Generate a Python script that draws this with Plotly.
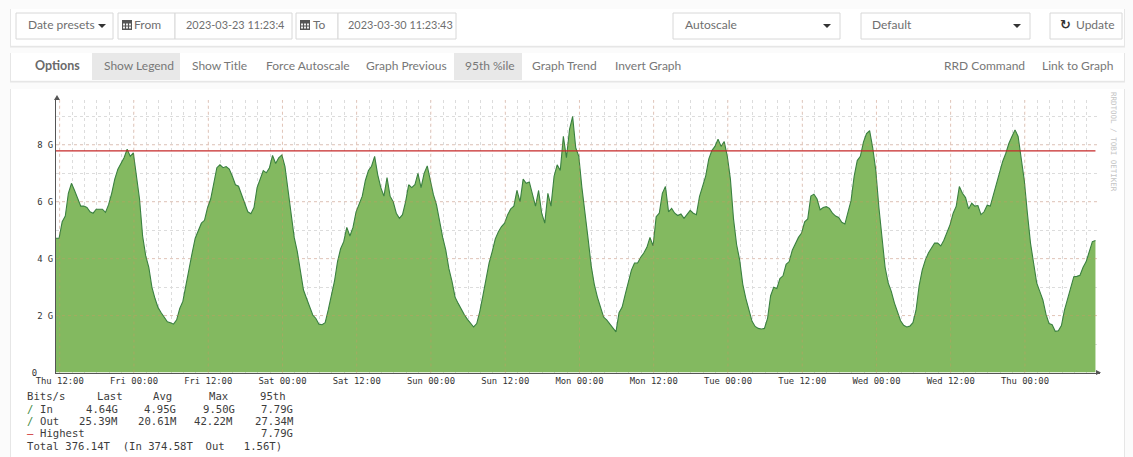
import pandas as pd
import plotly.graph_objects as go

W, H = 1133, 457

START = "2023-03-23 11:24"
IN_BITS_G = [
    4.72,4.72,5.3,5.5,6.3,6.65,6.4,6.1,5.85,5.85,5.8,5.65,5.6,5.74,5.75,5.74,5.63,5.9,6.3,6.8,
    7.15,7.35,7.55,7.85,7.6,7.72,6.9,6.1,4.8,4.1,3.7,3.0,2.6,2.28,2.1,1.92,1.78,1.75,1.7,1.85,
    2.25,2.5,3.1,3.6,4.2,4.72,5.0,5.25,5.35,5.8,6.1,6.6,7.2,7.3,7.2,7.24,7.15,6.9,6.6,6.55,
    6.25,5.9,5.65,5.58,5.8,6.5,6.8,7.1,7.02,7.2,7.63,7.35,7.55,7.65,7.25,6.42,5.7,4.75,4.25,3.6,
    2.9,2.6,2.3,2.02,1.9,1.7,1.68,1.75,2.2,2.7,3.2,3.9,4.35,4.6,5.1,4.8,5.1,5.65,5.95,6.2,
    6.75,7.1,7.25,7.6,6.95,6.5,6.2,6.85,6.2,6.0,5.6,5.42,
    5.55,6.0,6.6,6.5,6.6,7.0,6.5,7.0,7.26,6.75,6.25,5.89,5.3,4.75,4.3,3.65,3.2,2.65,2.43,2.2,
    2.03,1.87,1.75,1.6,1.72,2.15,2.7,3.3,3.85,4.25,4.7,4.95,5.13,5.25,5.55,5.75,5.85,6.4,6.0,6.8,
    6.65,6.7,6.3,5.85,6.4,5.6,5.25,6.3,5.85,6.9,7.3,7.1,8.3,7.55,8.55,9.0,7.9,7.6,6.5,5.5,
    4.7,3.75,3.1,2.65,2.25,1.95,1.85,1.72,1.6,1.43,2.1,2.3,2.75,3.2,3.6,3.85,3.85,4.05,4.2,4.4,
    4.75,4.45,5.48,5.6,6.3,6.54,5.65,5.77,5.6,5.52,5.57,5.42,5.55,5.7,5.6,5.55,6.18,6.55,6.9,7.5,
    7.8,7.95,8.2,7.95,8.12,7.6,6.8,5.4,4.5,3.95,3.1,2.6,2.2,1.8,1.62,1.55,
    1.53,1.55,1.9,2.7,3.0,2.95,3.3,3.4,3.8,3.9,4.3,4.55,4.75,4.9,5.3,5.4,6.2,6.27,6.1,5.72,
    5.8,5.83,5.77,5.6,5.5,5.45,5.28,5.22,5.6,6.05,6.9,7.45,7.6,8.1,8.4,8.5,7.9,7.1,5.8,4.65,
    3.7,3.15,2.85,2.45,2.15,1.82,1.66,1.6,1.63,1.75,2.19,3.05,3.6,3.95,4.2,4.4,4.55,4.55,4.45,4.65,
    4.9,5.2,5.6,5.85,6.54,6.3,6.15,5.75,5.95,5.85,5.87,5.55,5.65,5.88,5.85,6.25,6.7,7.1,7.42,7.7,
    8.05,8.3,8.53,8.3,7.5,6.75,5.6,4.55,3.85,3.15,2.85,2.55,2.05,1.72,1.68,1.45,1.47,1.65,2.2,2.6,
    2.95,3.37,3.38,3.42,3.7,3.9,4.25,4.6,4.64,
]
HIGHEST_G = 7.79

X_TICKS = ["2023-03-23 12:00","2023-03-24 00:00","2023-03-24 12:00","2023-03-25 00:00",
           "2023-03-25 12:00","2023-03-26 00:00","2023-03-26 12:00","2023-03-27 00:00",
           "2023-03-27 12:00","2023-03-28 00:00","2023-03-28 12:00","2023-03-29 00:00",
           "2023-03-29 12:00","2023-03-30 00:00"]
X_LABELS = ["Thu 12:00","Fri 00:00","Fri 12:00","Sat 00:00","Sat 12:00","Sun 00:00","Sun 12:00",
            "Mon 00:00","Mon 12:00","Tue 00:00","Tue 12:00","Wed 00:00","Wed 12:00","Thu 00:00"]
Y_TICKS = [0, 2, 4, 6, 8]
Y_LABELS = ["0   ", "2 G", "4 G", "6 G", "8 G"]

LEGEND_HEADER = ["Bits/s", "Last", "Avg", "Max", "95th"]
LEGEND_IN = ["In", "4.64G", "4.95G", "9.50G", "7.79G"]
LEGEND_OUT = ["Out", "25.39M", "20.61M", "42.22M", "27.34M"]
LEGEND_HIGHEST = ["Highest", "7.79G"]
LEGEND_TOTAL = "Total 376.14T  (In 374.58T  Out   1.56T)"

TOOLBAR = [
    ("Date presets", 27, 12), ("From", 133, 12), ("2023-03-23 11:23:4", 185, 10.9),
    ("To", 312, 12), ("2023-03-30 11:23:43", 347, 10.9), ("Autoscale", 684, 12),
    ("Default", 871, 12), ("Update", 1075, 12),
]
OPTIONS = [
    ("Show Legend", 103), ("Show Title", 191), ("Force Autoscale", 265), ("Graph Previous", 365),
    ("95th %ile", 464), ("Graph Trend", 531), ("Invert Graph", 614), ("RRD Command", 943),
    ("Link to Graph", 1041),
]


def px(x):
    return x / W


def py(y):
    return 1 - y / H


times = pd.date_range(START, periods=len(IN_BITS_G), freq="30min")

fig = go.Figure()
fig.add_trace(go.Scatter(
    x=times, y=IN_BITS_G, mode="lines", fill="tozeroy",
    fillcolor="#83b960", line=dict(color="#3a8040", width=1.1), showlegend=False,
    hoverinfo="skip",
))
fig.add_trace(go.Scatter(
    x=[times[0], times[-1]], y=[HIGHEST_G, HIGHEST_G], mode="lines",
    line=dict(color="#c62828", width=1.1), showlegend=False, hoverinfo="skip",
))

shapes = []


def rect(x0, y0, x1, y1, fill="white", line=None, lw=1, layer="below"):
    shapes.append(dict(type="rect", xref="paper", yref="paper", x0=px(x0), x1=px(x1),
                       y0=py(y1), y1=py(y0), fillcolor=fill,
                       line=dict(color=line or "rgba(0,0,0,0)", width=lw), layer=layer))


def tri(pts, color, layer="above"):
    path = "M " + " L ".join(f"{px(a):.5f} {py(b):.5f}" for a, b in pts) + " Z"
    shapes.append(dict(type="path", xref="paper", yref="paper", path=path,
                       fillcolor=color, line=dict(width=0), layer=layer))


def card(x0, y0, x1, y1):
    rect(x0 - 1, y0, x1 + 1, y1 + 2.5, fill="#e6e6e6")
    rect(x0, y0, x1, y1 + 1, fill="#fafafa")
    rect(x0, y0, x1, y1, fill="white")


def calendar(x, y):
    rect(x, y, x + 10, y + 10, fill="#555", layer="above")
    for i in range(3):
        for j in range(2):
            rect(x + 1 + i * 3, y + 3.5 + j * 3, x + 3 + i * 3, y + 5.5 + j * 3, fill="#eee", layer="above")


card(11, 9, 1124, 45)
card(11, 53, 1124, 80)
card(11, 89, 1124, 458)

for box in [(16, 13, 113, 39), (118, 13, 175, 39), (175, 13, 292, 39), (296, 13, 338, 39),
            (338, 13, 456, 39), (673, 13, 840, 39), (861, 13, 1030, 39), (1050, 13, 1122, 39)]:
    rect(*box, fill="white", line="#d8d8d8")
rect(92, 53, 180, 80, fill="#e8e8e8")
rect(454, 53, 522, 80, fill="#e8e8e8")
calendar(122, 20)
calendar(300, 20)
for cx in (102, 827, 1017):
    tri([(cx - 4, 24), (cx + 4, 24), (cx, 28)], "#333")

# major grid lines sit faintly over the filled area
MAJOR = "rgba(235,140,100,0.32)"
for t in X_TICKS:
    shapes.append(dict(type="line", xref="x", yref="paper", x0=t, x1=t, y0=py(372.5), y1=py(100),
                       line=dict(color=MAJOR, width=1, dash="dot"), layer="above"))
for v in Y_TICKS[1:]:
    shapes.append(dict(type="line", xref="paper", yref="y", x0=px(56), x1=px(1100), y0=v, y1=v,
                       line=dict(color=MAJOR, width=1, dash="dot"), layer="above"))
# axis arrows
tri([(54, 100), (60, 100), (57, 95)], "#555")
tri([(1096, 370), (1096, 375), (1101, 372.5)], "#555")

annotations = []
SANS = "Lato"


def text(s, x, y, size=12, color="#6f6f6f", font=SANS, anchor="left", angle=0, yanchor="middle"):
    annotations.append(dict(text=s, xref="paper", yref="paper", x=px(x), y=py(y), xanchor=anchor,
                            yanchor=yanchor, showarrow=False, textangle=angle,
                            font=dict(size=size, color=color, family=font), align="left",
                            borderpad=0, bordercolor="rgba(0,0,0,0)"))


for s, x, size in TOOLBAR:
    text(s, x, 25, size=size)
text("<b>\u21bb</b>", 1059, 25, size=13, color="#333", font="DejaVu Sans")
text("<b>Options</b>", 34, 65.5, size=12.5, color="#6a6a6a")
for s, x in OPTIONS:
    text(s, x, 65.5, size=12, color="#777")

MONO = "DejaVu Sans Mono"
MONO_TEXT = "#3c3c3c"
GREEN_MARK = "#3f8a3f"
RED_MARK = "#cc2222"


def mono(s, x, y, color=MONO_TEXT):
    text(s, x, y, size=10.6, color=color, font=MONO)


for s, x in zip(LEGEND_HEADER, (26, 96, 152, 208, 259)):
    mono(s, x, 396)
mono("/", 26, 409, GREEN_MARK)
for s, x in zip(LEGEND_IN, (39, 85, 143, 202, 260)):
    mono(s, x, 409)
mono("/", 26, 421, GREEN_MARK)
for s, x in zip(LEGEND_OUT, (39, 78, 137, 193, 254)):
    mono(s, x, 421)
mono("\u2014", 26, 433, RED_MARK)
for s, x in zip(LEGEND_HIGHEST, (39, 260)):
    mono(s, x, 433)
mono(LEGEND_TOTAL, 26, 446)
text("RRDTOOL / TOBI OETIKER", 1114, 142, size=7.5, color="#c4c4c4", font=MONO, anchor="center", angle=90)

fig.update_layout(
    width=W, height=H, margin=dict(l=0, r=0, t=0, b=0), autosize=False,
    paper_bgcolor="#fbfbfb", plot_bgcolor="rgba(0,0,0,0)",
    shapes=shapes, annotations=annotations, showlegend=False,
    xaxis=dict(
        type="date", domain=[px(56), px(1100)], automargin=False,
        range=["2023-03-23 11:24", "2023-03-30 12:08"],
        tickmode="array", tickvals=X_TICKS, ticktext=X_LABELS,
        tickfont=dict(family=MONO, size=8.9, color="#333"),
        showgrid=True, gridcolor="#e0e0e0", griddash="dot", gridwidth=1,
        minor=dict(dtick=7200000, tick0="2023-03-23 12:00", showgrid=True,
                   gridcolor="#dcdcdc", griddash="dot", gridwidth=1, ticks=""),
        showline=True, linecolor="#555", linewidth=1, ticks="", zeroline=False, ticklabelstandoff=0,
    ),
    yaxis=dict(
        domain=[py(372.5), py(100)], range=[0, 9.58], automargin=False,
        tickmode="array", tickvals=Y_TICKS, ticktext=Y_LABELS,
        tickfont=dict(family=MONO, size=8.9, color="#333"),
        showgrid=True, gridcolor="#e0e0e0", griddash="dot", gridwidth=1,
        minor=dict(dtick=1, tick0=0, showgrid=True, gridcolor="#dcdcdc", griddash="dot", gridwidth=1, ticks=""),
        showline=True, linecolor="#555", linewidth=1, ticks="", zeroline=False,
    ),
)

fig.write_html("out.html", post_script="document.body.style.margin='0';document.body.style.overflow='hidden';",
               config={"displayModeBar": False})
